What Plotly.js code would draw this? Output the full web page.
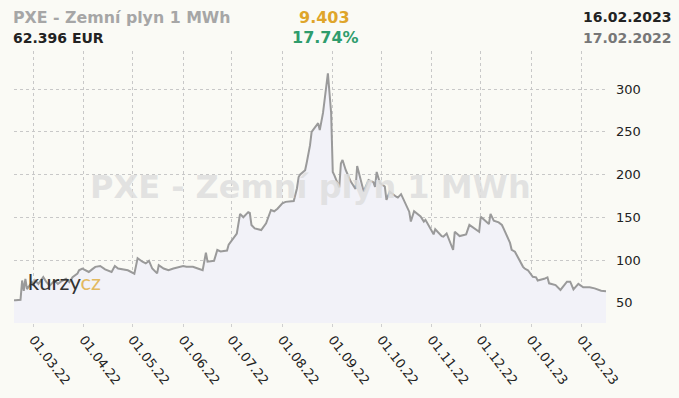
<!DOCTYPE html>
<html><head><meta charset="utf-8">
<script src="https://cdn.plot.ly/plotly-3.0.1.min.js"></script>
<style>html,body{margin:0;padding:0;background:#fafaf5;}#chart{width:679px;height:398px;}</style>
</head><body><div id="chart"></div>
<script>
const dates = ["2022-02-17","2022-02-18","2022-02-21","2022-02-22","2022-02-23","2022-02-24","2022-02-25","2022-02-28",
"2022-03-01","2022-03-02","2022-03-04","2022-03-07","2022-03-09","2022-03-11","2022-03-14","2022-03-16","2022-03-18","2022-03-21","2022-03-23","2022-03-25","2022-03-28","2022-03-29","2022-03-31",
"2022-04-04","2022-04-06","2022-04-08","2022-04-11","2022-04-14","2022-04-18","2022-04-20","2022-04-22","2022-04-25","2022-04-28",
"2022-05-02","2022-05-04","2022-05-07","2022-05-09","2022-05-11","2022-05-13","2022-05-16","2022-05-17","2022-05-20","2022-05-23","2022-05-26","2022-05-30",
"2022-06-01","2022-06-03","2022-06-07","2022-06-10","2022-06-13","2022-06-15","2022-06-16","2022-06-20","2022-06-22","2022-06-24","2022-06-28","2022-06-29",
"2022-07-01","2022-07-04","2022-07-06","2022-07-08","2022-07-11","2022-07-12","2022-07-13","2022-07-15","2022-07-19","2022-07-22","2022-07-25","2022-07-27","2022-07-29",
"2022-08-01","2022-08-03","2022-08-08","2022-08-10","2022-08-11","2022-08-12","2022-08-15","2022-08-16","2022-08-18","2022-08-19","2022-08-22","2022-08-23","2022-08-24","2022-08-26","2022-08-29","2022-08-31",
"2022-09-01","2022-09-02","2022-09-05","2022-09-06","2022-09-07","2022-09-09","2022-09-12","2022-09-15","2022-09-16","2022-09-19","2022-09-20","2022-09-23","2022-09-26","2022-09-27","2022-09-28","2022-09-30",
"2022-10-03","2022-10-04","2022-10-06","2022-10-10","2022-10-11","2022-10-13","2022-10-17","2022-10-18","2022-10-19","2022-10-21","2022-10-25","2022-10-27","2022-10-28","2022-10-31",
"2022-11-02","2022-11-03","2022-11-07","2022-11-08","2022-11-10","2022-11-14","2022-11-15","2022-11-18","2022-11-22","2022-11-24","2022-11-28","2022-11-30",
"2022-12-01","2022-12-05","2022-12-06","2022-12-07","2022-12-09","2022-12-12","2022-12-14","2022-12-15","2022-12-19","2022-12-20","2022-12-22","2022-12-27","2022-12-28","2022-12-30",
"2023-01-02","2023-01-04","2023-01-05","2023-01-09","2023-01-11","2023-01-12","2023-01-16","2023-01-19","2023-01-23","2023-01-25","2023-01-27","2023-01-30",
"2023-02-02","2023-02-06","2023-02-09","2023-02-13","2023-02-14","2023-02-16"];
const prices = [53.0,52.8,53.5,76,64,78,66,74,
70,76,72,80,74,70,76,72,75,78,74,80,84,88,90,
86,89,92,93,89,86,93,90,89,88,
84,102,98,96,99,90,84.4,94,90,88,90,91.5,
93,92,92,90,88,108.5,98,99,111.7,110,111,118,
123,131,154,150,156,155,141,137,135,143,158.5,157,160,
166.4,168,169,184,197,200,205,214,234,250,258,260,252,272,318.4,272,203,
199,185,213,217,205,192,183,210,186,180,193.6,191,185.4,203,190,186,
170.3,180,174,173,177,161,156.5,145,157,151,145,147,137,130,
136,128,127.3,131,111.7,133,128,130,141,135,133,150.7,
143,142,154,146,144,141,137,120,112,109.7,92,90,88,80.4,
79.7,76,78,79.7,72.7,70.7,65,74.6,74.6,65.7,72,68,
68,66.8,64,64,63.5,62.396];
const yTicks = [50,100,150,200,250,300];
const xTickVals = ["2022-03-01","2022-04-01","2022-05-01","2022-06-01","2022-07-01","2022-08-01","2022-09-01","2022-10-01","2022-11-01","2022-12-01","2023-01-01","2023-02-01"];
const xTickText = ["01.03.22","01.04.22","01.05.22","01.06.22","01.07.22","01.08.22","01.09.22","01.10.22","01.11.22","01.12.22","01.01.23","01.02.23"];
const titleText = "PXE - Zemní plyn 1 MWh";
const lastPrice = "62.396 EUR";
const changeAbs = "9.403";
const changePct = "17.74%";
const dateEnd = "16.02.2023";
const dateStart = "17.02.2022";

const F = "DejaVu Sans, Verdana, sans-serif";
const trace = {
  x: dates, y: prices, type: 'scatter', mode: 'lines',
  line: {color: '#9a9a9a', width: 2},
  fill: 'tozeroy', fillcolor: '#f2f2f8',
  hoverinfo: 'skip'
};
const layout = {
  width: 679, height: 398,
  margin: {l: 14, r: 73, t: 51, b: 75, pad: 0},
  paper_bgcolor: '#fafaf5', plot_bgcolor: '#fafaf5',
  showlegend: false,
  font: {family: F, size: 13, color: '#222'},
  xaxis: {
    type: 'date', range: ['2022-02-17', '2023-02-16'],
    tickvals: xTickVals, ticktext: xTickText, tickangle: 52,
    showgrid: true, gridcolor: '#c8c8c8', griddash: 'dot', gridwidth: 1,
    ticks: 'outside', ticklen: 3, tickcolor: '#d0d0d0',
    showline: false, zeroline: false,
    tickfont: {family: F, size: 13, color: '#222'}
  },
  yaxis: {
    range: [26.3, 344.5], side: 'right',
    tickvals: yTicks,
    showgrid: true, gridcolor: '#c8c8c8', griddash: 'dot', gridwidth: 1,
    ticks: '', ticklabelstandoff: 9,
    showline: false, zeroline: false,
    tickfont: {family: F, size: 13, color: '#222'}
  },
  annotations: [
    {text: titleText, xref: 'paper', yref: 'paper', x: 0.5, y: 0.5, xanchor: 'center', yanchor: 'middle',
     showarrow: false, font: {family: F, size: 32, color: 'rgba(222,222,222,0.85)', weight: 'bold'}},
    {text: 'kurzy<span style="color:#e2b960">cz</span>', xref: 'paper', yref: 'paper', x: 0.02, y: 0.154,
     xanchor: 'left', yanchor: 'middle', showarrow: false, font: {family: 'Lato, sans-serif', size: 22, color: '#333'}},
    {text: '<b>' + titleText + '</b>', xref: 'paper', yref: 'paper', x: -0.005, y: 1.125, xanchor: 'left', yanchor: 'middle',
     showarrow: false, font: {family: F, size: 15.8, color: '#a6a6a6'}},
    {text: '<b>' + lastPrice + '</b>', xref: 'paper', yref: 'paper', x: -0.005, y: 1.048, xanchor: 'left', yanchor: 'middle',
     showarrow: false, font: {family: F, size: 14, color: '#222'}},
    {text: '<b>' + changeAbs + '</b>', xref: 'paper', yref: 'paper', x: 0.525, y: 1.125, xanchor: 'center', yanchor: 'middle',
     showarrow: false, font: {family: F, size: 16, color: '#dfa52a'}},
    {text: '<b>' + changePct + '</b>', xref: 'paper', yref: 'paper', x: 0.527, y: 1.048, xanchor: 'center', yanchor: 'middle',
     showarrow: false, font: {family: F, size: 16, color: '#2f9c6c'}},
    {text: '<b>' + dateEnd + '</b>', xref: 'paper', yref: 'paper', x: 1.115, y: 1.125, xanchor: 'right', yanchor: 'middle',
     showarrow: false, font: {family: F, size: 14, color: '#222'}},
    {text: '<b>' + dateStart + '</b>', xref: 'paper', yref: 'paper', x: 1.115, y: 1.048, xanchor: 'right', yanchor: 'middle',
     showarrow: false, font: {family: F, size: 14, color: '#777'}}
  ]
};
Plotly.newPlot('chart', [trace], layout, {displayModeBar: false, staticPlot: true});
</script></body></html>
